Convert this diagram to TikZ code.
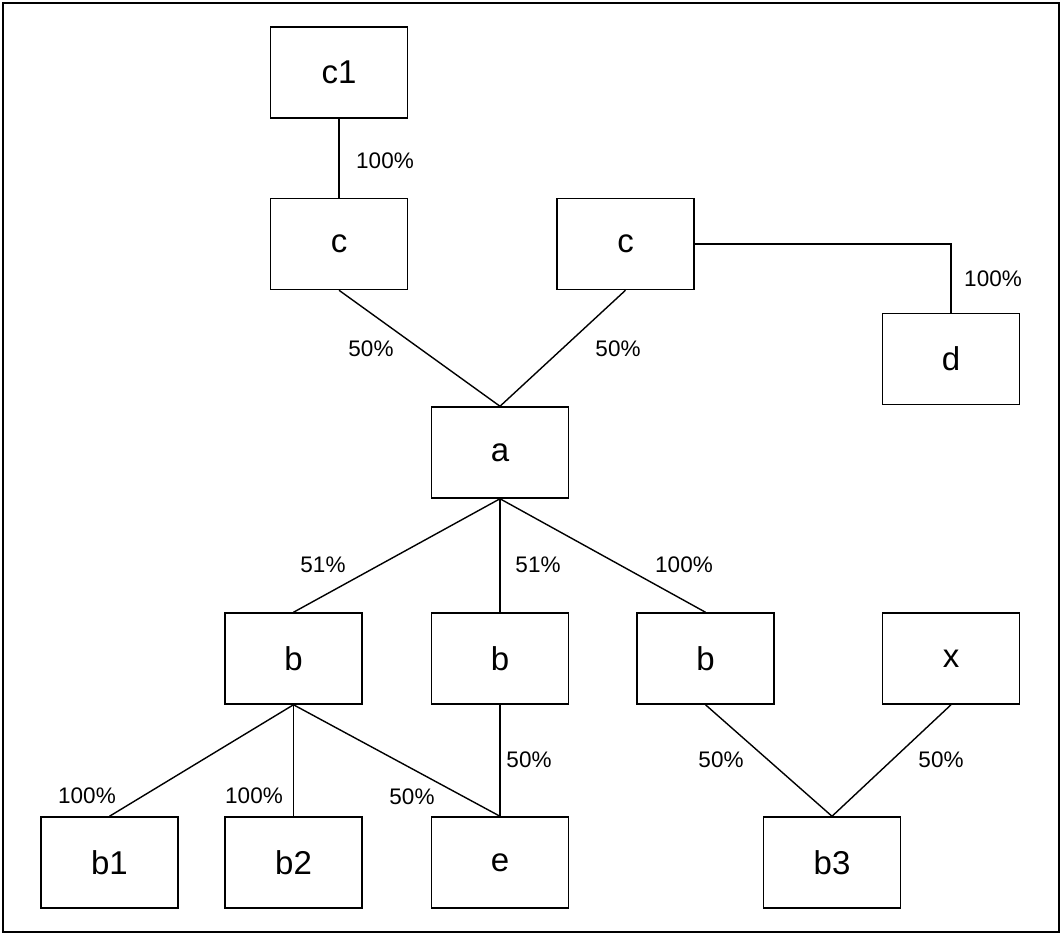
\documentclass[tikz,border=0pt]{standalone}
\usepackage{fontspec}
\setmainfont{Liberation Sans}
\begin{document}
\begin{tikzpicture}[x=1pt,y=-1pt,
  box/.style={draw=black,line width=1.5pt,fill=white,minimum width=137pt,minimum height=91pt,inner sep=0pt,font=\fontsize{33}{40}\selectfont},
  pct/.style={inner sep=0pt,font=\fontsize{22.5}{27}\selectfont},
  link/.style={draw=black,line width=1.4pt}]
\useasboundingbox (0,0) rectangle (1064,935);
\draw[line width=2pt] (3,3) rectangle (1059,932);
% boxes
\node[box] (c1) at (339,72.5) {c1};
\node[box] (cL) at (339,244) {c};
\node[box] (cR) at (625.5,244) {c};
\node[box] (d) at (951,359) {d};
\node[box] (a) at (500,452.5) {a};
\node[box] (bL) at (293.5,658.5) {b};
\node[box] (bM) at (500,658.5) {b};
\node[box] (bR) at (705.5,658.5) {b};
\node[box] (x) at (951,658.5) {x};
\node[box] (b1) at (109.5,862.5) {b1};
\node[box] (b2) at (293.5,862.5) {b2};
\node[box] (e) at (500,862.5) {e};
\node[box] (b3) at (832,862.5) {b3};
% connectors
\draw[link] (c1.south) -- (cL.north);
\draw[link] (cL.south) -- (a.north);
\draw[link] (cR.south) -- (a.north);
\draw[link] (cR.east) -| (d.north);
\draw[link] (a.south) -- (bL.north);
\draw[link] (a.south) -- (bM.north);
\draw[link] (a.south) -- (bR.north);
\draw[link] (bL.south) -- (b1.north);
\draw[link] (bL.south) -- (b2.north);
\draw[link] (bL.south) -- (e.north);
\draw[link] (bM.south) -- (e.north);
\draw[link] (bR.south) -- (b3.north);
\draw[link] (x.south) -- (b3.north);
% labels
\node[pct] (l1) at (385,161) {100\%};
\node[pct] (l2) at (371,349) {50\%};
\node[pct] (l3) at (618,349) {50\%};
\node[pct] (l4) at (993,279) {100\%};
\node[pct] (l5) at (323,565) {51\%};
\node[pct] (l6) at (538,565) {51\%};
\node[pct] (l7) at (684,565) {100\%};
\node[pct] (l8) at (87,796) {100\%};
\node[pct] (l9) at (254,796) {100\%};
\node[pct] (l10) at (412,797) {50\%};
\node[pct] (l11) at (529,760) {50\%};
\node[pct] (l12) at (721,760) {50\%};
\node[pct] (l13) at (941,760) {50\%};
\end{tikzpicture}
\end{document}
